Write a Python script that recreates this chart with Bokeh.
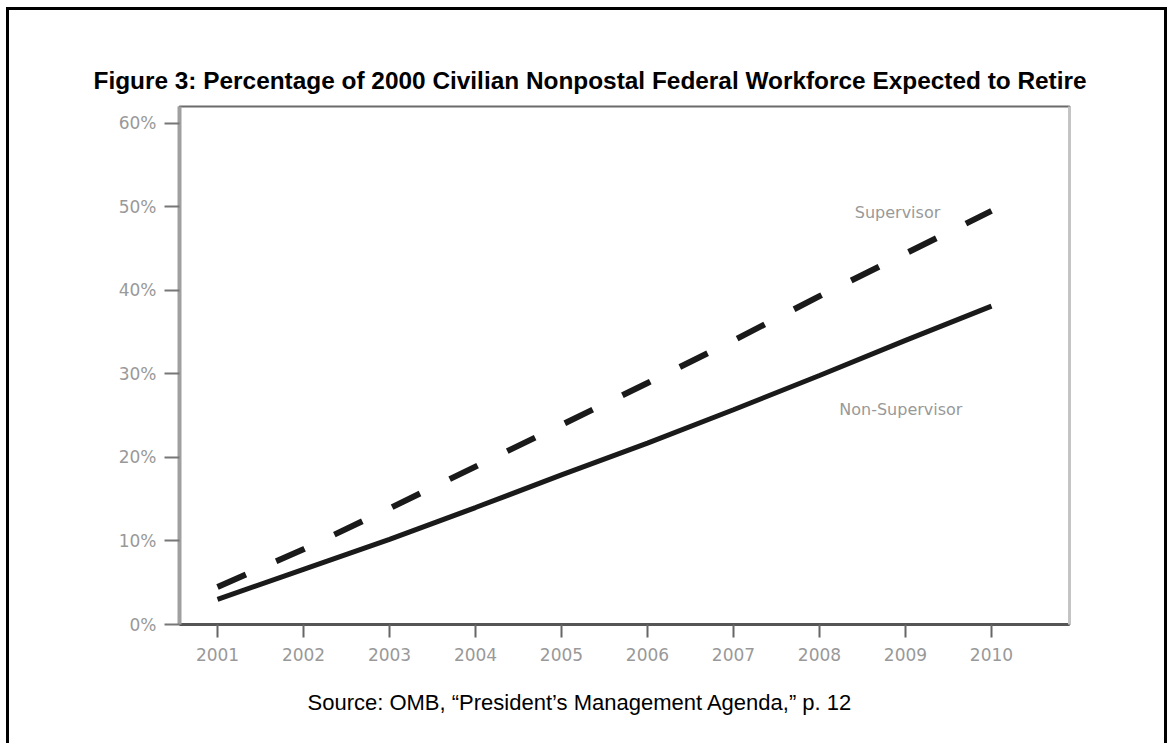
from bokeh.plotting import figure
from bokeh.models import Range1d, FixedTicker, LinearAxis, Label, Title
from bokeh.embed import file_html
from bokeh.resources import INLINE

years = [2001, 2002, 2003, 2004, 2005, 2006, 2007, 2008, 2009, 2010]
non_supervisor = [3.0, 6.6, 10.2, 14.0, 17.9, 21.7, 25.7, 29.8, 34.0, 38.1]
supervisor = [4.5, 9.0, 13.9, 18.9, 23.9, 28.9, 34.0, 39.3, 44.4, 49.5]
y_ticks = [0, 10, 20, 30, 40, 50, 60]
y_tick_labels = ["0%", "10%", "20%", "30%", "40%", "50%", "60%"]
title_text = "Figure 3: Percentage of 2000 Civilian Nonpostal Federal Workforce Expected to Retire"
source_text = "Source: OMB, \u201cPresident\u2019s Management Agenda,\u201d p. 12"

# figure sits inside a black box border (left/top/right)
W, H = 1161, 736
FL, FR, FT, FB = 170, 1060, 96, 614
p = figure(width=W, height=H, output_backend="svg", toolbar_location=None,
           x_range=Range1d(2000.558, 2010.907), y_range=Range1d(0, 62.0),
           min_border_left=FL, min_border_right=W - FR,
           min_border_top=FT, min_border_bottom=H - FB,
           title=title_text)
p.background_fill_color = "white"
p.border_fill_color = "white"
p.grid.visible = False
p.outline_line_color = "#6a6a6a"
p.outline_line_width = 2
p.styles = {"border-left": "3px solid black", "border-top": "3px solid black",
            "border-right": "3px solid black",
            "margin-left": "6px", "margin-top": "7px"}

p.title.align = "left"
p.title.offset = -86
p.title.standoff = 26
p.title.text_font = "Liberation Sans"
p.title.text_font_style = "bold"
p.title.text_font_size = "24.4px"
p.title.text_color = "black"

# y axis
ya = p.yaxis[0]
ya.ticker = FixedTicker(ticks=y_ticks)
ya.major_label_overrides = {t: l for t, l in zip(y_ticks, y_tick_labels)}
ya.axis_line_color = "#a0a0a0"
ya.axis_line_width = 4
ya.major_tick_line_color = "#777777"
ya.major_tick_line_width = 2
ya.major_tick_out = 15
ya.major_tick_in = 0
ya.minor_tick_line_color = None
ya.major_label_standoff = 8
ya.major_label_text_color = "#999999"
ya.major_label_text_font = "DejaVu Sans"
ya.major_label_text_font_size = "17px"

# x axis
xa = p.xaxis[0]
xa.ticker = FixedTicker(ticks=years)
xa.major_label_overrides = {y: str(y) for y in years}
xa.axis_line_color = "#555555"
xa.axis_line_width = 3
xa.major_tick_line_color = "#666666"
xa.major_tick_line_width = 2
xa.major_tick_out = 13
xa.major_tick_in = 0
xa.minor_tick_line_color = None
xa.major_label_standoff = 10
xa.major_label_text_color = "#999999"
xa.major_label_text_font = "DejaVu Sans"
xa.major_label_text_font_size = "17px"

# lighter right frame edge
right_ax = LinearAxis(ticker=FixedTicker(ticks=[]), axis_line_color="#c4c4c4",
                      axis_line_width=3, major_tick_line_color=None,
                      minor_tick_line_color=None)
p.add_layout(right_ax, "right")

# series
p.line(years, non_supervisor, line_color="#1a1a1a", line_width=5)
p.line(years, supervisor, line_color="#1a1a1a", line_width=6,
       line_dash="31 33", line_cap="butt")

p.add_layout(Label(x=2008.41, y=49.3, text="Supervisor", text_baseline="middle",
                   text_font="DejaVu Sans", text_font_size="16px",
                   text_color="#999999"))
p.add_layout(Label(x=2008.23, y=25.7, text="Non-Supervisor", text_baseline="middle",
                   text_font="DejaVu Sans", text_font_size="16px",
                   text_color="#999999"))

# source note below the axis
src = Title(text=source_text, align="left", offset=128, standoff=48,
            text_font="Liberation Sans", text_font_style="normal",
            text_font_size="22px", text_color="black")
p.add_layout(src, "below")

open("out.html", "w").write(file_html(p, INLINE))
